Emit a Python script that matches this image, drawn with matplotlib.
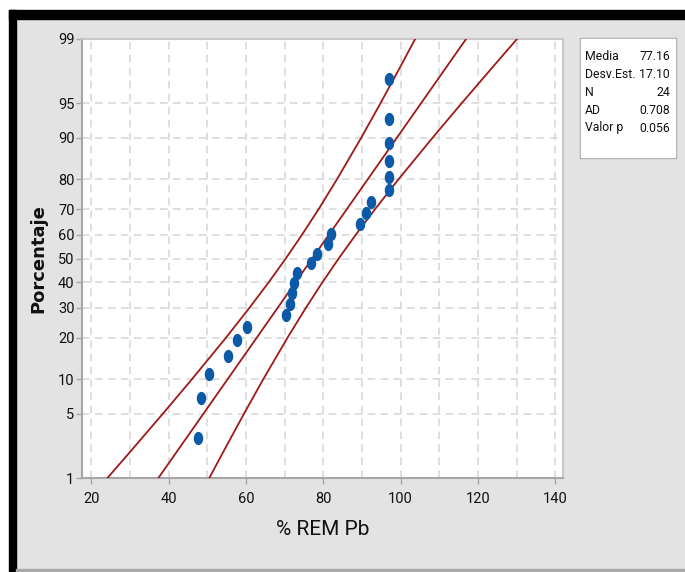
import numpy as np
import matplotlib
matplotlib.use("Agg")
import matplotlib.pyplot as plt
import matplotlib.ticker as ticker
from matplotlib.patches import Rectangle
from matplotlib.path import Path
from statistics import NormalDist

# --- datos ---
rem_pb = [47.7, 48.3, 50.5, 55.3, 57.7, 60.2, 70.3, 71.4, 71.9, 72.5, 73.1, 76.8,
          78.3, 81.3, 81.9, 89.4, 91.0, 92.4, 97.0, 97.0, 97.0, 97.0, 97.0, 97.0]
porcentaje = [2.87, 6.97, 11.07, 15.16, 19.26, 23.36, 27.46, 31.56, 35.66, 39.75,
              43.85, 47.95, 52.05, 56.15, 60.25, 64.34, 68.44, 72.54, 76.64, 80.74,
              84.84, 88.93, 93.03, 97.13]

# linea ajustada y bandas de confianza (x en cada percentil)
band_pct = [1, 2, 5, 10, 20, 30, 40, 50, 60, 70, 80, 90, 95, 98, 99]
fit_x = [37.38, 42.04, 49.03, 55.24, 62.77, 68.19, 72.83, 77.16, 81.49, 86.13,
         91.55, 99.08, 105.29, 112.28, 116.94]
lower_x = [24.21, 29.98, 38.54, 46.01, 54.81, 60.89, 65.88, 70.32, 74.54, 78.83,
           83.59, 89.85, 94.80, 100.22, 103.77]
upper_x = [50.55, 54.10, 59.52, 64.47, 70.73, 75.49, 79.78, 84.00, 88.44, 93.43,
           99.51, 108.31, 115.78, 124.34, 130.11]

y_ticks = [1, 5, 10, 20, 30, 40, 50, 60, 70, 80, 90, 95, 99]
x_ticks = [20, 40, 60, 80, 100, 120, 140]

stats_labels = ["Media", "Desv.Est.", "N", "AD", "Valor p"]
stats_values = ["77.16", "17.10", "24", "0.708", "0.056"]

# --- escala de probabilidad normal ---
_nd = NormalDist()
_ppf = np.vectorize(lambda p: _nd.inv_cdf(min(max(p / 100.0, 1e-9), 1 - 1e-9)),
                    otypes=[float])
_cdf = np.vectorize(lambda z: _nd.cdf(z) * 100.0, otypes=[float])


def fwd(p):
    return _ppf(np.asarray(p, dtype=float))


def inv(z):
    return _cdf(np.asarray(z, dtype=float))


plt.rcParams["font.family"] = ["Roboto", "DejaVu Sans"]

W, H = 685, 572
fig = plt.figure(figsize=(W / 100, H / 100), dpi=100)
fig.patch.set_facecolor("#e3e3e3")


def fig_rect(x0, y0, x1, y1, color):
    # coordenadas en pixeles desde arriba-izquierda
    fig.patches.append(Rectangle((x0 / W, 1 - y1 / H), (x1 - x0) / W, (y1 - y0) / H,
                                 transform=fig.transFigure, color=color, zorder=0))


fig_rect(0, 0, W, 10, "white")
fig_rect(0, 0, 9, H, "white")
fig_rect(9, 10, W, 19, "black")
fig_rect(9, 10, 16, H, "black")
fig_rect(16, 569, W, H, "#a9a9a9")

ax = fig.add_axes([81.5 / W, 1 - 478 / H, (563 - 81.5) / W, (478 - 39) / H])
ax.set_yscale("function", functions=(fwd, inv))
ax.set_ylim(1, 99)
ax.set_xlim(17.5, 142)

ax.yaxis.set_major_locator(ticker.FixedLocator(y_ticks))
ax.yaxis.set_major_formatter(ticker.FixedFormatter([str(t) for t in y_ticks]))
ax.yaxis.set_minor_locator(ticker.NullLocator())
ax.xaxis.set_major_locator(ticker.FixedLocator(x_ticks))
ax.xaxis.set_minor_locator(ticker.MultipleLocator(10))

grid_kw = dict(color="#d6d6d6", linestyle=(0, (5, 3.5)), linewidth=1.1)
ax.grid(True, axis="y", which="major", **grid_kw)
ax.grid(True, axis="x", which="both", **grid_kw)
ax.set_axisbelow(True)

for s in ax.spines.values():
    s.set_color("#a6a6a6")
    s.set_linewidth(1.5)
ax.spines["top"].set_color("#c8c8c8")
ax.spines["right"].set_color("#c8c8c8")

ax.tick_params(axis="both", which="major", length=4, width=1, color="#a6a6a6",
               labelsize=10.5, labelcolor="#111111")
ax.tick_params(axis="x", which="minor", length=0)
ax.tick_params(axis="x", pad=6)
ax.tick_params(axis="y", pad=1)

# bandas y linea ajustada
line_color = "#9e1a1a"
for xs in (lower_x, fit_x, upper_x):
    ax.plot(xs, band_pct, color=line_color, linewidth=1.3, zorder=3)

# marcador eliptico (mas alto que ancho)
t = np.linspace(0, 2 * np.pi, 40)
ellipse = Path(np.column_stack([0.72 * np.cos(t), np.sin(t)]), closed=True)
ax.plot(rem_pb, porcentaje, linestyle="none", marker=ellipse, markersize=9.5,
        color="#0a5aa8", markeredgewidth=0, zorder=4)

ax.set_xlabel("% REM Pb", fontsize=15, color="#111111", labelpad=10)
ax.set_ylabel("Porcentaje", fontsize=13, fontweight="bold", color="#111111",
              family=["DejaVu Sans"], labelpad=8)

# cuadro de estadisticos
fig_rect(580, 38, 676, 158, "#a6a6a6")
fig_rect(581, 39, 675, 157, "white")
row_y = [56.7, 74.3, 92.0, 110.0, 128.0]
for lab, val, yy in zip(stats_labels, stats_values, row_y):
    fig.text(585 / W, 1 - yy / H, lab, fontsize=8.8, color="#111111", va="center", ha="left")
    fig.text(670 / W, 1 - yy / H, val, fontsize=8.8, color="#111111", va="center", ha="right")

fig.savefig("out.png", dpi=100, facecolor=fig.get_facecolor())
